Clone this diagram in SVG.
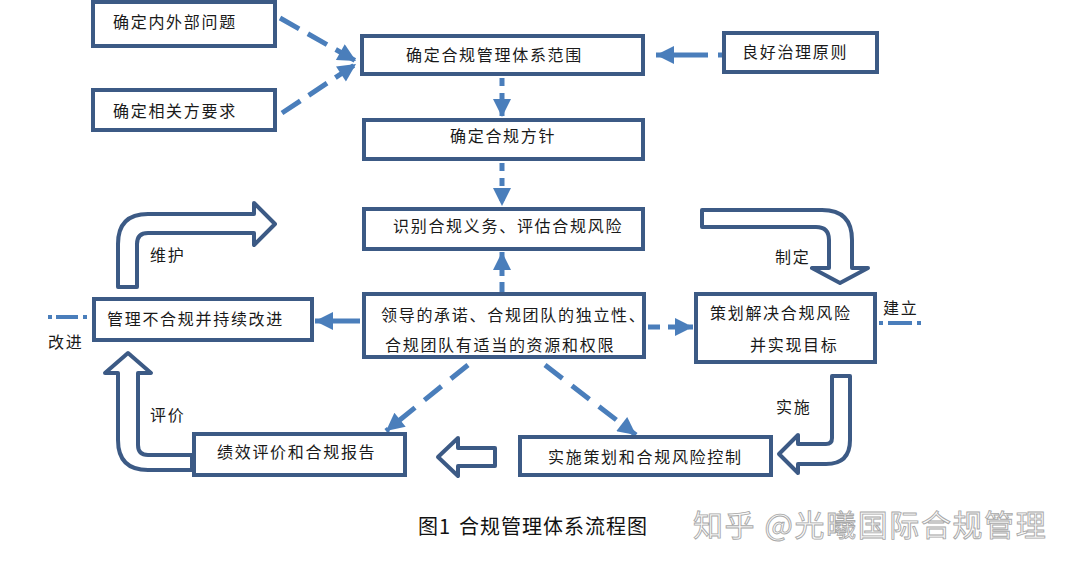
<svg xmlns="http://www.w3.org/2000/svg" width="1074" height="570" viewBox="0 0 1074 570">
<style>
.box{fill:#fff;stroke:#3c5a85;stroke-width:4}
.t{font-family:"Noto Sans CJK SC","Noto Sans",sans-serif;font-size:16px;fill:#1a1a1a;letter-spacing:1.7px}
.hollow{fill:#fff;stroke:#3c5a85;stroke-width:4;stroke-linejoin:round}
.dl{fill:none;stroke:#4a7ebb;stroke-width:5}
.cap{font-family:"Noto Sans CJK SC","Noto Sans",sans-serif;font-size:20px;fill:#111;letter-spacing:1px}
.wm{font-family:"Noto Sans CJK SC","Noto Sans",sans-serif;font-size:30px;fill:#fafafa;stroke:#a8a8a8;stroke-width:0.9;letter-spacing:1.6px}
</style>
<defs>
<marker id="ah" viewBox="0 0 10 10" refX="10" refY="5" markerWidth="20" markerHeight="18" markerUnits="userSpaceOnUse" orient="auto">
<path d="M0,0 L10,5 L0,10 Z" fill="#4a7ebb"/>
</marker>
</defs>
<rect width="1074" height="570" fill="#fff"/>
<g id="connectors">
<path class="dl" d="M280,18 L356,61" stroke-dasharray="22 10" marker-end="url(#ah)"/>
<path class="dl" d="M282,113 L356,64" stroke-dasharray="22 10" marker-end="url(#ah)"/>
<path class="dl" d="M722,55 L656,55" stroke-dasharray="4 10 100" marker-end="url(#ah)"/>
<path class="dl" d="M502,78 L502,117" stroke-dasharray="8 7" marker-end="url(#ah)"/>
<path class="dl" d="M502,163 L502,206" stroke-dasharray="8 7" marker-end="url(#ah)"/>
<path class="dl" d="M502,292 L502,252" stroke-dasharray="10 6" marker-end="url(#ah)"/>
<path class="dl" d="M360,321 L315,321" marker-end="url(#ah)"/>
<path class="dl" d="M648,327 L693,327" stroke-dasharray="12 8" marker-end="url(#ah)"/>
<path class="dl" d="M468,365 L386,431" stroke-dasharray="22 12" marker-end="url(#ah)"/>
<path class="dl" d="M545,365 L636,435" stroke-dasharray="22 12" marker-end="url(#ah)"/>
<path d="M48,317 L88,317" fill="none" stroke="#4a7ebb" stroke-width="4" stroke-dasharray="4 4 22 5 4 10"/>
<path d="M879,323 L922,323" fill="none" stroke="#4a7ebb" stroke-width="4" stroke-dasharray="4 5 24 5 4 10"/>
<path class="hollow" d="M118,287 L118,244 Q118,214 148,214 L254,214 L254,203 L275,224 L254,245 L254,233 L148,233 Q137,233 137,244 L137,287 Z"/>
<path class="hollow" d="M702,210 L822,210 Q852,210 852,240 L852,268 L868,268 L840,283 L812,268 L829,268 L829,240 Q829,227 816,227 L702,227 Z"/>
<path class="hollow" d="M832,376 L850,376 L850,440 Q850,464 826,464 L798,464 L798,473 L779,454 L798,435 L798,444 L826,444 Q832,444 832,438 Z"/>
<path class="hollow" d="M192,470 L148,470 Q118,470 118,440 L118,373 L105,373 L128,353 L151,373 L138,373 L138,445 Q138,455 148,455 L192,455 Z"/>
<path class="hollow" d="M495,448 L458,448 L458,438 L438,457 L458,476 L458,466 L495,466 Z"/>
</g>
<g id="n1"><rect class="box" x="93" y="2" width="182" height="44"/><text class="t" x="113" y="28">确定内外部问题</text></g>
<g id="n2"><rect class="box" x="93" y="90" width="182" height="40"/><text class="t" x="113" y="117">确定相关方要求</text></g>
<g id="n3"><rect class="box" x="362" y="36" width="281" height="38"/><text class="t" x="406" y="61">确定合规管理体系范围</text></g>
<g id="n4"><rect class="box" x="724" y="33" width="153" height="39"/><text class="t" x="742" y="58">良好治理原则</text></g>
<g id="n5"><rect class="box" x="364" y="120" width="279" height="39"/><text class="t" x="450" y="142">确定合规方针</text></g>
<g id="n6"><rect class="box" x="364" y="209" width="279" height="40"/><text class="t" x="393" y="232">识别合规义务、评估合规风险</text></g>
<g id="n7"><rect class="box" x="364" y="294" width="280" height="63"/><text class="t" x="381" y="321">领导的承诺、合规团队的独立性、</text><text class="t" x="385" y="351">合规团队有适当的资源和权限</text></g>
<g id="n8"><rect class="box" x="94" y="299" width="218" height="41"/><text class="t" x="107" y="325">管理不合规并持续改进</text></g>
<g id="n9"><rect class="box" x="696" y="294" width="179" height="68"/><text class="t" x="710" y="319">策划解决合规风险</text><text class="t" x="750" y="351">并实现目标</text></g>
<g id="n10"><rect class="box" x="194" y="434" width="211" height="41"/><text class="t" x="217" y="458">绩效评价和合规报告</text></g>
<g id="n11"><rect class="box" x="520" y="437" width="251" height="38"/><text class="t" x="548" y="463">实施策划和合规风险控制</text></g>
<g id="labels">
<text class="t" x="150" y="261">维护</text>
<text class="t" x="775" y="263">制定</text>
<text class="t" x="776" y="413">实施</text>
<text class="t" x="150" y="421">评价</text>
<text class="t" x="48" y="348">改进</text>
<text class="t" x="883" y="314">建立</text>
<text class="cap" x="418" y="534">图1<tspan dx="8">合规管理体系流程图</tspan></text>
<text class="wm" x="693" y="536">知乎 @光曦国际合规管理</text>
</g>
</svg>
